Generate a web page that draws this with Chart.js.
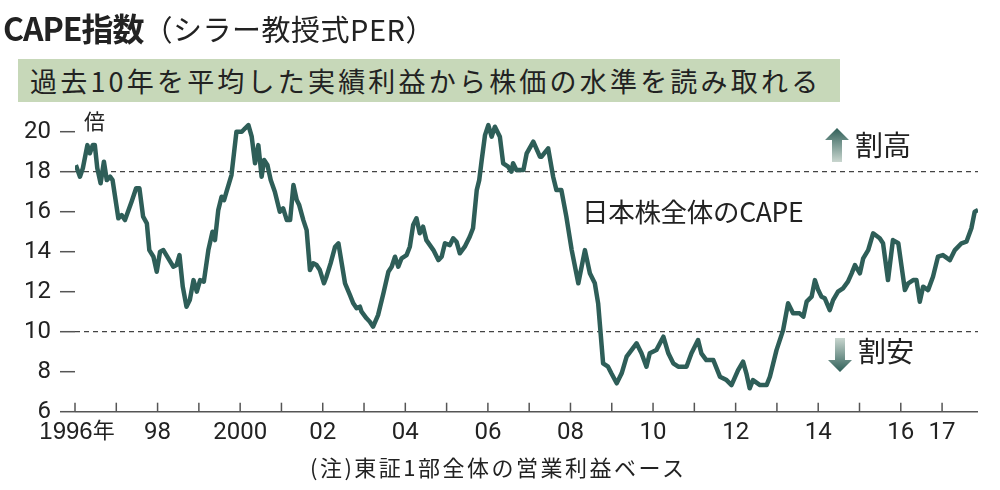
<!DOCTYPE html>
<html><head><meta charset="utf-8">
<script src="https://cdn.jsdelivr.net/npm/chart.js@4"></script>
<style>
body{margin:0;background:#fff;font-family:"Noto Sans CJK JP",sans-serif;}
#wrap{position:relative;width:1000px;height:490px;}
canvas{position:absolute;left:0;top:0;}
.t{position:absolute;white-space:nowrap;color:#222;line-height:1.2;}
</style></head><body>
<div id="wrap">
<canvas id="c" width="1000" height="490"></canvas>
<div class="t" style="left:3px;top:8px;font-size:32px;letter-spacing:-1px"><b>CAPE指数</b><span style="font-size:29px;letter-spacing:0.5px">（シラー教授式PER）</span></div>
<div class="t" style="left:18px;top:59px;width:822px;height:43px;background:#c7d8b9;font-size:27px;line-height:43px;padding-left:12px;box-sizing:border-box;letter-spacing:3.2px">過去10年を平均した実績利益から株価の水準を読み取れる</div>
<div class="t" style="left:84px;top:108px;font-size:21px">倍</div>
<div class="t" style="left:855px;top:128px;font-size:28px">割高</div>
<div class="t" style="left:858px;top:334px;font-size:28px">割安</div>
<div class="t" style="left:582px;top:195px;font-size:26.5px;letter-spacing:-0.3px">日本株全体のCAPE</div>
<div class="t" style="left:310px;top:453px;font-size:22px;letter-spacing:2.5px">(注)東証1部全体の営業利益ベース</div>
</div>
<script>
const years=[1996.02,1996.12,1996.19,1996.30,1996.36,1996.43,1996.48,1996.54,1996.62,1996.70,1996.77,1996.85,1996.91,1997.05,1997.13,1997.21,1997.37,1997.48,1997.56,1997.65,1997.74,1997.80,1997.90,1997.98,1998.06,1998.14,1998.26,1998.38,1998.46,1998.53,1998.61,1998.70,1998.78,1998.87,1998.95,1999.03,1999.12,1999.23,1999.33,1999.39,1999.47,1999.55,1999.61,1999.67,1999.79,1999.91,2000.04,2000.12,2000.20,2000.28,2000.36,2000.44,2000.52,2000.58,2000.66,2000.74,2000.84,2000.96,2001.04,2001.13,2001.21,2001.29,2001.37,2001.43,2001.53,2001.61,2001.69,2001.77,2001.85,2001.93,2002.03,2002.09,2002.19,2002.30,2002.38,2002.46,2002.54,2002.66,2002.74,2002.82,2002.90,2002.94,2003.06,2003.14,2003.22,2003.34,2003.47,2003.59,2003.67,2003.75,2003.83,2003.91,2004.03,2004.11,2004.19,2004.27,2004.35,2004.43,2004.51,2004.68,2004.80,2004.88,2004.96,2005.08,2005.16,2005.24,2005.32,2005.44,2005.56,2005.64,2005.73,2005.79,2005.85,2005.93,2006.01,2006.09,2006.17,2006.29,2006.37,2006.49,2006.57,2006.61,2006.69,2006.86,2006.94,2007.10,2007.26,
2007.30,2007.46,2007.58,2007.66,2007.78,2007.90,2008.03,2008.19,2008.35,2008.47,2008.59,2008.67,2008.79,2008.91,2008.99,2009.12,2009.24,2009.36,2009.60,2009.72,2009.84,2009.92,2010.08,2010.25,2010.37,2010.49,2010.61,2010.73,2010.81,2010.93,2011.09,2011.17,2011.29,2011.46,2011.62,2011.78,2011.90,2012.06,2012.18,2012.26,2012.34,2012.42,2012.59,2012.75,2012.83,2012.99,2013.15,2013.27,2013.39,2013.55,2013.64,2013.72,2013.84,2013.92,2014.00,2014.08,2014.16,2014.28,2014.36,2014.48,2014.60,2014.72,2014.81,2014.89,2015.01,2015.09,2015.21,2015.33,2015.49,2015.57,2015.69,2015.81,2015.94,2016.02,2016.10,2016.18,2016.30,2016.38,2016.46,2016.54,2016.66,2016.78,2016.90,2017.02,2017.19,2017.31,2017.47,2017.59,2017.71,2017.79,2017.87];
const cape=[18.33,17.75,18.17,19.33,18.92,19.33,19.33,18.17,17.42,18.5,17.58,17.75,17.58,15.67,15.83,15.58,16.5,17.17,17.17,15.75,15.42,14.08,13.75,13.0,14.0,14.08,13.67,13.25,13.33,13.83,12.25,11.25,11.58,12.58,12.0,12.58,12.5,14.08,15.0,14.58,16.08,16.75,16.58,17.0,17.83,20.0,20.0,20.17,20.33,19.75,18.42,19.33,17.75,18.58,18.33,17.58,17.0,16.0,16.17,15.58,15.58,17.33,16.58,16.33,15.58,15.08,13.08,13.42,13.33,13.08,12.42,12.75,13.42,14.25,14.42,13.42,12.42,11.83,11.42,11.17,11.25,11.0,10.67,10.5,10.25,10.83,11.92,13.0,13.25,13.75,13.25,13.67,13.83,14.25,15.33,15.67,14.92,15.25,14.58,14.08,13.58,13.75,14.42,14.33,14.67,14.5,13.92,14.25,14.75,15.17,17.08,17.58,18.58,19.83,20.33,19.75,20.25,19.75,18.42,18.25,18.0,18.42,18.08,18.08,18.92,19.5,18.75,
18.75,19.17,17.75,17.08,17.08,15.75,14.08,12.42,14.08,12.92,12.42,11.42,8.42,8.25,7.92,7.42,7.92,8.75,9.42,8.92,8.25,8.92,9.08,9.75,8.92,8.42,8.25,8.25,8.25,8.92,9.58,8.92,8.58,8.58,7.75,7.58,7.33,8.08,8.5,7.92,7.17,7.58,7.33,7.33,7.75,9.08,10.08,11.42,10.92,10.92,10.75,11.5,11.75,12.58,12.08,11.75,11.67,11.08,11.58,12.0,12.17,12.5,12.92,13.33,12.92,13.67,14.08,14.92,14.67,14.42,12.58,14.58,14.42,13.25,12.08,12.42,12.58,12.58,11.5,12.25,12.08,12.75,13.75,13.83,13.58,14.08,14.42,14.5,15.17,16.0,16.08];
const yTicks=[6,8,10,12,14,16,18,20];
const tickYears=[1996,1997,1998,1999,2000,2001,2002,2003,2004,2005,2006,2007,2008,2009,2010,2011,2012,2013,2014,2015,2016,2017];
const tickLabels={1996:"1996年",1998:"98",2000:"2000",2002:"02",2004:"04",2006:"06",2008:"08",2010:"10",2012:"12",2014:"14",2016:"16",2017:"17"};
const refLines=[18,10];

const deco={id:'deco',
 beforeDatasetsDraw(ch){const c=ch.ctx,a=ch.chartArea,y=ch.scales.y,x=ch.scales.x;
  c.save();c.strokeStyle='#444';c.lineWidth=1.2;c.setLineDash([5,4]);
  refLines.forEach(v=>{const p=y.getPixelForValue(v);c.beginPath();c.moveTo(a.left,p);c.lineTo(a.right,p);c.stroke();});
  c.setLineDash([]);c.strokeStyle='#555';c.lineWidth=1.5;
  c.beginPath();c.moveTo(a.left,a.bottom);c.lineTo(a.right,a.bottom);c.stroke();
  tickYears.forEach(t=>{const p=x.getPixelForValue(t);c.beginPath();c.moveTo(p,a.bottom);c.lineTo(p,a.bottom-9);c.stroke();});
  yTicks.forEach(t=>{const p=y.getPixelForValue(t);c.beginPath();c.moveTo(a.left-15,p);c.lineTo(a.left,p);c.stroke();});
  c.fillStyle='#222';c.font='24px "Liberation Sans Narrow","Roboto",sans-serif';c.textAlign='right';c.textBaseline='middle';
  yTicks.forEach(t=>c.fillText(String(t),a.left-24,y.getPixelForValue(t)));
  c.textAlign='center';c.textBaseline='top';
  tickYears.forEach(t=>{if(tickLabels[t]){let p=x.getPixelForValue(t);if(t===1996)p+=2;
    if(t===1996){c.font='24px "Liberation Sans Narrow",sans-serif';const w1=c.measureText('1996').width;c.font='22px "Noto Sans CJK JP"';const w2=c.measureText('年').width;const s=p-(w1+w2)/2;c.textAlign='left';c.font='24px "Liberation Sans Narrow",sans-serif';c.fillText('1996',s,a.bottom+9);c.font='22px "Noto Sans CJK JP"';c.fillText('年',s+w1,a.bottom+7);c.textAlign='center';c.font='24px "Liberation Sans Narrow","Roboto",sans-serif';}
    else c.fillText(tickLabels[t],p,a.bottom+9);}});
  function arrow(cx,y0,y1){const g=c.createLinearGradient(0,y0,0,y1);g.addColorStop(0,'#2f5f58');g.addColorStop(1,'#c9d6cf');
   c.fillStyle=g;const dir=Math.sign(y1-y0);c.beginPath();
   c.moveTo(cx,y0);c.lineTo(cx+12,y0+dir*12);c.lineTo(cx+5,y0+dir*12);c.lineTo(cx+5,y1);c.lineTo(cx-5,y1);c.lineTo(cx-5,y0+dir*12);c.lineTo(cx-12,y0+dir*12);c.closePath();c.fill();}
  arrow(837,128,162);arrow(840,372,338);
  c.restore();}};

new Chart(document.getElementById('c'),{type:'line',
 data:{datasets:[{data:years.map((v,i)=>({x:v,y:cape[i]})),borderColor:'#2e5e58',borderWidth:4.5,pointRadius:0,tension:0,borderJoinStyle:'round'}]},
 options:{responsive:false,animation:false,
  layout:{padding:{top:101.7,right:22,left:0,bottom:0}},
  plugins:{legend:{display:false},tooltip:{enabled:false}},
  scales:{
   x:{type:'linear',min:1996,max:2017.87,display:true,grid:{display:false},border:{display:false},ticks:{display:false},afterFit(s){s.height=78.3;}},
   y:{min:6,max:21.5,display:true,grid:{display:false},border:{display:false},ticks:{display:false},afterFit(s){s.width=75;}}
  }},
 plugins:[deco]});
</script></body></html>
